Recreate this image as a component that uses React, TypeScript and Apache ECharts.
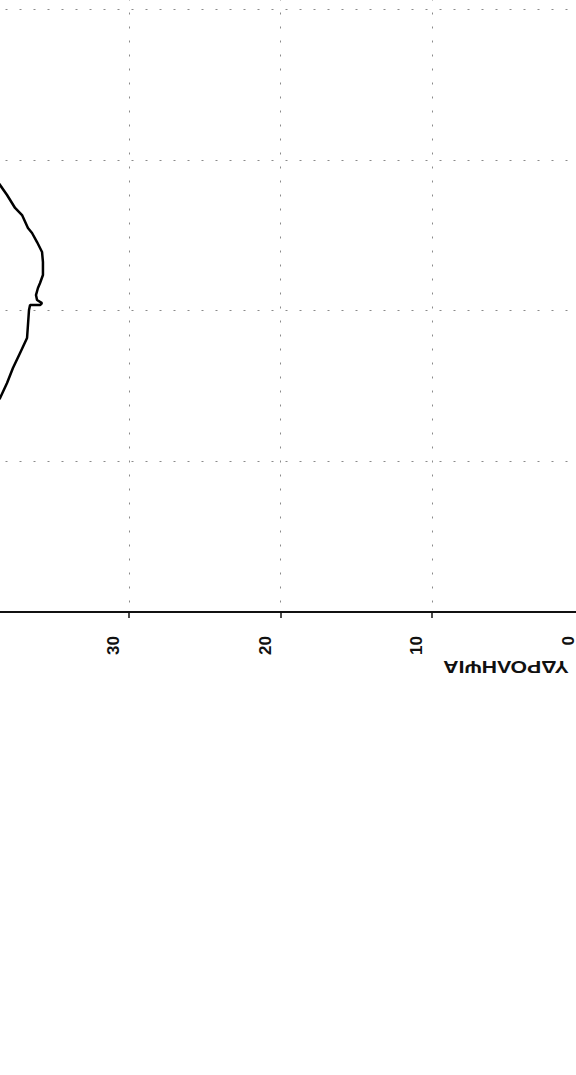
import React, { useEffect, useRef } from "react";
import * as echarts from "echarts";

// Axis title (drawn upside down, as in the scanned reference)
const axisTitle = "ΥΔΡΟΛΗΨΙΑ";

// Value axis (horizontal, reversed): ticks every 10
const valueMin = 0;
const valueMax = 40;
const valueStep = 10;

// Position axis (vertical, labels outside the visible area)
const posMin = 0;
const posMax = 50;
const posStep = 10;

// Curve: abstraction value (horizontal) against position (vertical)
const abstraction = [
  39.2, 38.51, 38.05, 37.52, 37.06, 36.67, 36.4, 36.07, 35.74, 35.68, 35.68,
  35.87, 36.01, 36.14, 36.07, 35.74, 35.87, 36.53, 36.6, 36.73, 37.19, 37.66,
  38.05, 38.51, 39.2,
];
const position = [
  29.3, 28.33, 27.67, 26.81, 26.34, 25.48, 25.15, 24.55, 23.89, 23.22, 22.36,
  21.83, 21.5, 21.03, 20.7, 20.5, 20.37, 20.37, 20.04, 18.18, 17.19, 16.19,
  15.2, 14.2, 13.3,
];

// The chart canvas is larger than the page and shifted, so that the
// plot continues past the page edges as in the cropped scan.
const OFF_X = 30;
const OFF_Y = 150;
const CW = 616;
const CH = 1225;

export default function App() {
  const ref = useRef<HTMLDivElement>(null);

  useEffect(() => {
    if (!ref.current) return;
    const chart = echarts.init(ref.current, null, { renderer: "svg" });
    const grid = { color: "#8a8a8a", width: 1, type: [2, 12] as number[] };
    const option: any = {
      animation: false,
      backgroundColor: "#ffffff",
      grid: { left: 7.5, right: 2.5, top: 8.5, bottom: 463, containLabel: false },
      xAxis: {
        type: "value",
        inverse: true,
        position: "bottom",
        min: valueMin,
        max: valueMax,
        interval: valueStep,
        axisLine: { show: true, onZero: false, lineStyle: { color: "#111", width: 2 } },
        axisTick: { show: true, length: 6, lineStyle: { color: "#111", width: 1.5 } },
        axisLabel: {
          rotate: 90,
          margin: 24,
          fontSize: 17,
          fontWeight: "bold",
          fontFamily: "'Liberation Sans Narrow', 'Liberation Sans', Arial, sans-serif",
          color: "#111",
          verticalAlign: "bottom",
          padding: [0, 0, 7, 0],
          showMaxLabel: false,
        },
        splitLine: { show: true, lineStyle: grid },
      },
      yAxis: {
        type: "value",
        min: posMin,
        max: posMax,
        interval: posStep,
        axisLine: { show: false },
        axisTick: { show: false },
        axisLabel: { show: false },
        splitLine: { show: true, lineStyle: grid },
      },
      series: [
        {
          type: "line",
          data: abstraction.map((v, i) => [v, position[i]]),
          symbol: "none",
          showSymbol: false,
          clip: true,
          lineStyle: { color: "#000", width: 2.5 },
        },
      ],
      graphic: [
        {
          type: "text",
          x: 506 + OFF_X,
          y: 667 + OFF_Y,
          rotation: Math.PI,
          scaleX: 1.25,
          style: {
            text: axisTitle,
            fontSize: 17,
            fontWeight: "bold",
            fontFamily: "'Liberation Sans', Arial, sans-serif",
            fill: "#111",
            align: "center",
            verticalAlign: "middle",
          },
        },
      ],
    };
    chart.setOption(option);
    return () => chart.dispose();
  }, []);

  return (
    <div
      style={{
        position: "fixed",
        left: 0,
        top: 0,
        width: 576,
        height: 1075,
        overflow: "hidden",
        background: "#fff",
      }}
    >
      <div
        ref={ref}
        style={{ position: "absolute", left: -OFF_X, top: -OFF_Y, width: CW, height: CH }}
      />
    </div>
  );
}
